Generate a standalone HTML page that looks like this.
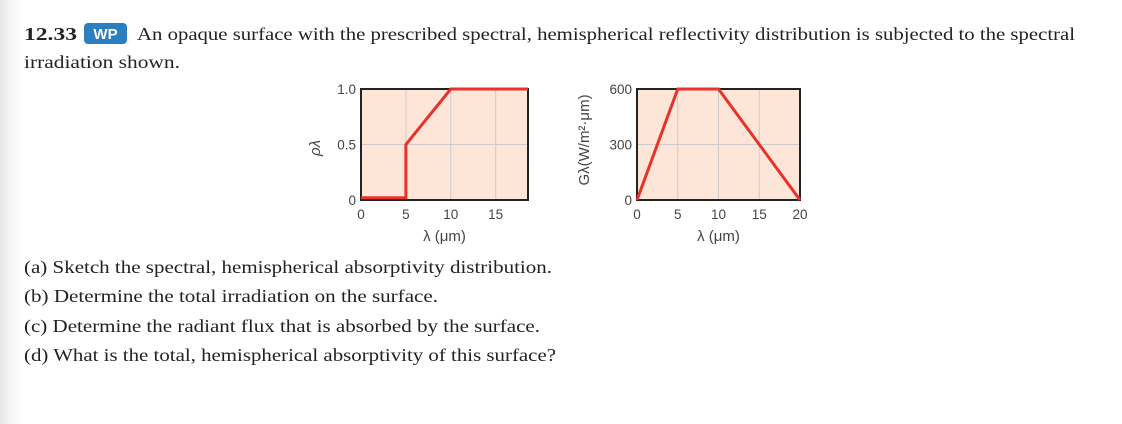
<!DOCTYPE html>
<html><head><meta charset="utf-8"><style>
html,body{margin:0;padding:0;background:#fff;}
#wrap{position:relative;width:1122px;height:424px;overflow:hidden;background:linear-gradient(to right,#e6e6e6 0px,#f7f7f7 12px,#fff 22px);}
svg{position:absolute;left:0;top:0;}
.serif{font-family:"Liberation Serif",serif;fill:#222;font-size:18px;}
.tick{font-family:"Liberation Sans",sans-serif;fill:#444;font-size:13.5px;}
.axt{font-family:"Liberation Sans",sans-serif;fill:#444;font-size:15px;}
</style></head><body>
<div id="wrap">
<svg id="svg" width="1122" height="424">
<text class="serif" x="24" y="40" font-weight="bold" textLength="53" lengthAdjust="spacingAndGlyphs">12.33</text>
<rect x="84" y="23" width="43" height="21" rx="4" fill="#2b7fc0"/>
<text x="105.5" y="39" text-anchor="middle" font-family="Liberation Sans,sans-serif" font-weight="bold" font-size="15" fill="#fff">WP</text>
<text class="serif" x="137" y="40" textLength="938" lengthAdjust="spacingAndGlyphs">An opaque surface with the prescribed spectral, hemispherical reflectivity distribution is subjected to the spectral</text>
<text class="serif" x="24" y="68" textLength="156" lengthAdjust="spacingAndGlyphs">irradiation shown.</text>
<text class="serif" x="24" y="273" textLength="528" lengthAdjust="spacingAndGlyphs">(a) Sketch the spectral, hemispherical absorptivity distribution.</text>
<text class="serif" x="24" y="302" textLength="414" lengthAdjust="spacingAndGlyphs">(b) Determine the total irradiation on the surface.</text>
<text class="serif" x="24" y="332" textLength="516" lengthAdjust="spacingAndGlyphs">(c) Determine the radiant flux that is absorbed by the surface.</text>
<text class="serif" x="24" y="361" textLength="532" lengthAdjust="spacingAndGlyphs">(d) What is the total, hemispherical absorptivity of this surface?</text>
<g id="c1"></g>
<g id="c2"></g>
</svg>
</div>
<script>
const rhoX = [0, 5, 5, 10, 18.6];
const rhoY = [0.02, 0.02, 0.5, 1.0, 1.0];
const rhoXTicks = [0, 5, 10, 15];
const rhoYTicks = [0, 0.5, 1.0];
const rhoYLabels = ["0", "0.5", "1.0"];
const gX = [0, 5, 10, 20];
const gY = [0, 600, 600, 0];
const gXTicks = [0, 5, 10, 15, 20];
const gYTicks = [0, 300, 600];
const gYLabels = ["0", "300", "600"];

const NS = "http://www.w3.org/2000/svg";
function mk(tag, attrs, parent){const e=document.createElementNS(NS,tag);for(const k in attrs)e.setAttribute(k,attrs[k]);parent.appendChild(e);return e;}

function chart(g, box, xmax, ymax, xs, ys, xt, yt, yl, prefix){
  const sx=v=>box.x0+(v/xmax)*(box.x1-box.x0);
  const sy=v=>box.y1-(v/ymax)*(box.y1-box.y0);
  const bg=mk('rect',{x:box.x0,y:box.y0,width:box.x1-box.x0,height:box.y1-box.y0,fill:'#fde5d8'},g);
  
  
  xt.forEach(v=>{ if(v>0&&v<xmax){const l=mk('line',{x1:sx(v),x2:sx(v),y1:box.y0,y2:box.y1,stroke:'#ccc','stroke-width':1},g);
    
    }
    const t=mk('text',{x:sx(v),y:box.y1+19,'text-anchor':'middle',class:'tick'},g);t.textContent=v;
    
    
  });
  yt.forEach((v,i)=>{ if(v>0&&v<ymax){const l=mk('line',{x1:box.x0,x2:box.x1,y1:sy(v),y2:sy(v),stroke:'#ccc','stroke-width':1},g);
    
    }
    const t=mk('text',{x:box.x0-5,y:sy(v)+5,'text-anchor':'end',class:'tick'},g);t.textContent=yl[i];
    
    
  });
  const fr=mk('rect',{x:box.x0,y:box.y0,width:box.x1-box.x0,height:box.y1-box.y0,fill:'none',stroke:'#222','stroke-width':2},g);
  
  
  const pts=xs.map((x,i)=>sx(x)+','+sy(ys[i])).join(' ');
  const pl=mk('polyline',{points:pts,fill:'none',stroke:'#e8312a','stroke-width':3,'stroke-linejoin':'miter'},g);
  
  
  const xl=mk('text',{x:(box.x0+box.x1)/2,y:box.y1+41,'text-anchor':'middle',class:'axt'},g);xl.textContent='λ (μm)';
  
  
}
const c1=document.getElementById('c1'), c2=document.getElementById('c2');
chart(c1,{x0:361,x1:528,y0:89,y1:200},18.6,1.0,rhoX,rhoY,rhoXTicks,rhoYTicks,rhoYLabels,'rho');
chart(c2,{x0:637,x1:800,y0:89,y1:200},20,600,gX,gY,gXTicks,gYTicks,gYLabels,'g');
const yt1=mk('text',{x:0,y:0,transform:'translate(320,148) rotate(-90)','text-anchor':'middle',class:'axt','font-style':'italic'},c1);
yt1.textContent='ρλ';


const yt2=mk('text',{x:0,y:0,transform:'translate(589,140) rotate(-90)','text-anchor':'middle',class:'axt','font-size':'14'},c2);
yt2.textContent='Gλ(W/m²·μm)';


</script>
</body></html>
